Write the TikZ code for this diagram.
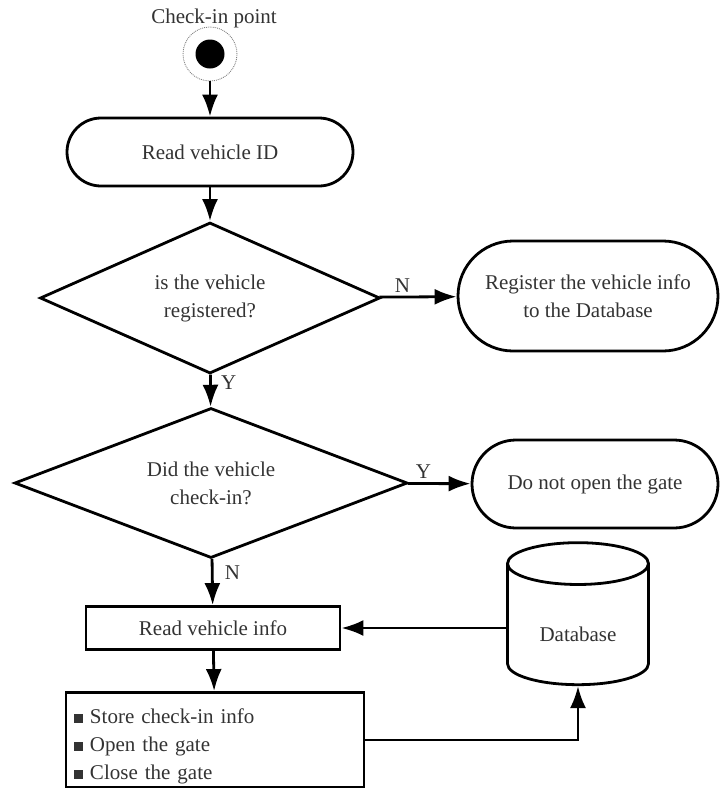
\documentclass[tikz,border=0pt]{standalone}
\usepackage{fontspec}
\setmainfont{Liberation Serif}
\usetikzlibrary{shapes,arrows,arrows.meta}

\begin{document}
\begin{tikzpicture}[x=1pt, y=1pt, node distance=146pt, font=\fontsize{21}{28}\selectfont, text=black!80]
\tikzstyle{terminal} = [rectangle, draw, line width=2.8pt, text centered, align=center]
\tikzstyle{decision} = [diamond, draw, line width=2.8pt, align=center, aspect=2.3, inner sep=0pt]
\tikzstyle{block} = [rectangle, draw, line width=2.8pt]
\tikzstyle{line} = [draw, line width=2.8pt, -{Latex[length=22pt,width=16pt]}]
\newcommand{\sq}{\rule[1pt]{9pt}{9pt}\hspace{7pt}}

\useasboundingbox (0,0) rectangle (720,-788);

\node [circle, fill=black, minimum size=29pt, inner sep=0pt] (start) at (210,-54) {};
\node [circle, draw=black!50, densely dotted, line width=0.9pt, minimum size=54pt, inner sep=0pt] (ring) at (start) {};
\node [node distance=36pt, above of=start, xshift=4pt] (startlabel) {Check-in point};
\node [terminal, node distance=98pt, below of=start, rounded corners=34pt, minimum width=286pt, minimum height=68pt] (readid) {Read vehicle ID};
\node [decision, node distance=146pt, below of=readid, minimum width=340pt, minimum height=151pt] (reg) {is the vehicle\\registered?};
\node [terminal, node distance=378pt, right of=reg, yshift=2pt, rounded corners=55pt, minimum width=260pt, minimum height=110pt] (register) {Register the vehicle info\\to the Database};
\node [decision, node distance=185pt, below of=reg, xshift=1pt, minimum width=393pt, minimum height=150pt] (check) {Did the vehicle\\check-in?};
\node [terminal, node distance=384pt, right of=check, yshift=-1pt, rounded corners=44pt, minimum width=246pt, minimum height=88pt] (noopen) {Do not open the gate};
\node [block, node distance=145pt, below of=check, xshift=2pt, minimum width=254pt, minimum height=43pt] (readinfo) {Read vehicle info};
\node [cylinder, draw, line width=2.8pt, shape border rotate=90, aspect=0.5, node distance=365pt, right of=readinfo, yshift=0pt, minimum width=141pt, minimum height=142pt, text height=26pt, text depth=0pt] (db) {Database};
\node [block, node distance=112pt, below of=readinfo, xshift=2pt, text width=282pt, inner xsep=8pt, inner ysep=2pt, minimum height=95pt, align=left] (store) {\rule{0pt}{28pt}\sq Store check-in info\\\sq Open the gate\\\sq Close the gate};

\path [line] (ring) -- (readid);
\path [line] (readid) -- (reg);
\path [line] (reg) -- node [above, pos=0.3] {N} (register);
\path [line] (reg) -- node [right, pos=0.25, xshift=6pt] {Y} (check);
\path [line] (check) -- node [above, pos=0.25] {Y} (noopen);
\path [line] (check) -- node [right, pos=0.3, xshift=8pt] {N} (readinfo);
\path [line] (db.west |- readinfo.east) -- (readinfo.east);
\path [line] (readinfo) -- (store);
\path [line] (store.east) -| (db.south);
\end{tikzpicture}
\end{document}
